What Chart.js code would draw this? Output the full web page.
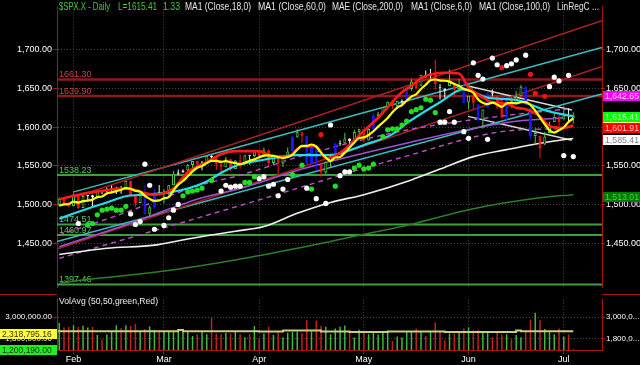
<!DOCTYPE html>
<html><head><meta charset="utf-8">
<script src="https://cdn.jsdelivr.net/npm/chart.js@4.4.1/dist/chart.umd.min.js"></script>
<style>
html,body{margin:0;padding:0;background:#000;}
#wrap{position:relative;width:640px;height:365px;background:#000;overflow:hidden;}
#main{position:absolute;left:0;top:0;}
#vol{position:absolute;left:0;top:294px;}
</style></head><body>
<div id="wrap"><canvas id="main" width="640" height="294"></canvas><canvas id="vol" width="640" height="71"></canvas></div>
<script>
// ================= DATA =================
const months = ['Jan','Feb','Mar','Apr','May','Jun','Jul'];
const tradingDays = [
  [29,30,31],
  [1,4,5,6,7,8,11,12,13,14,15,19,20,21,22,25,26,27,28],
  [1,4,5,6,7,8,11,12,13,14,15,18,19,20,21,22,25,26,27,28],
  [1,2,3,4,5,8,9,10,11,12,15,16,17,18,19,22,23,24,25,26,29,30],
  [1,2,3,6,7,8,9,10,13,14,15,16,17,20,21,22,23,24,28,29,30,31],
  [3,4,5,6,7,10,11,12,13,14,17,18,19,20,21,24,25,26,27,28],
  [1,2,3]
];
const dates = tradingDays.flatMap((days, m) => days.map(d => months[m] + ' ' + d));

const open = [1500.18,1507.84,1501.96,1498.11,1513.17,1495.71,1511.29,1512.12,1509.39,1517.93,
1517.01,1519.43,1520.33,1521.38,1519.79,1530.94,1511.95,1502.42,1515.60,1487.85,
1496.94,1515.99,1514.68,1518.20,1525.20,1539.79,1541.46,1544.26,1551.15,1556.22,
1552.48,1554.52,1563.21,1560.70,1552.10,1548.34,1558.71,1545.90,1556.89,1551.69,
1563.75,1562.86,1569.18,1562.17,1570.25,1553.69,1559.98,1553.26,1563.11,1568.61,
1587.73,1593.30,1588.84,1552.36,1574.57,1552.03,1541.61,1555.25,1562.50,1578.78,
1578.93,1585.16,1582.34,1593.58,1597.55,1582.77,1597.60,1614.40,1617.55,1625.95,
1632.69,1626.69,1632.10,1633.75,1649.13,1658.07,1652.45,1665.71,1666.20,1669.39,
1651.62,1646.67,1652.63,1656.57,1649.14,1652.13,1631.71,1640.73,1629.05,1609.29,
1625.27,1644.67,1638.64,1629.94,1612.15,1635.52,1630.64,1639.77,1651.83,1624.62,
1588.62,1588.77,1577.52,1592.27,1606.44,1611.12,1609.78,1614.29,1611.48];
const high = [1509.35,1509.94,1504.19,1514.41,1513.17,1514.96,1512.53,1512.90,1518.31,1518.31,
1522.29,1524.69,1523.14,1524.24,1530.94,1530.94,1511.95,1515.64,1525.84,1498.99,
1520.08,1525.34,1519.99,1525.27,1543.47,1545.25,1545.78,1552.48,1556.27,1556.77,
1556.39,1563.32,1563.62,1560.70,1557.25,1561.56,1558.71,1557.74,1564.91,1563.95,
1564.07,1570.28,1570.57,1573.66,1571.47,1562.60,1559.98,1563.07,1573.89,1589.07,
1597.35,1593.30,1588.84,1575.35,1574.57,1554.38,1555.89,1565.55,1579.58,1583.00,
1592.64,1585.78,1596.65,1597.57,1597.55,1598.60,1618.46,1619.77,1626.03,1632.78,
1635.01,1633.70,1636.00,1651.10,1661.49,1660.51,1667.47,1672.84,1674.93,1687.18,
1655.50,1649.78,1674.21,1656.57,1661.91,1658.99,1640.42,1646.53,1629.31,1622.56,
1644.40,1648.69,1640.13,1637.71,1639.25,1640.80,1646.50,1654.19,1652.45,1624.62,
1599.19,1588.77,1593.79,1606.83,1620.07,1615.94,1626.61,1624.26,1618.97];
const low = [1498.09,1500.11,1496.76,1498.11,1495.02,1495.71,1504.71,1498.49,1509.39,1513.61,
1515.61,1515.93,1514.02,1514.14,1519.79,1511.41,1497.29,1502.42,1487.85,1485.01,
1494.88,1514.46,1501.48,1512.29,1525.20,1538.11,1541.46,1539.19,1547.36,1548.24,
1544.37,1554.52,1555.74,1545.13,1538.57,1548.34,1543.55,1545.90,1546.22,1551.69,
1551.90,1561.08,1558.47,1562.17,1549.80,1552.52,1539.50,1548.63,1560.92,1568.61,
1586.17,1579.97,1552.28,1552.36,1543.69,1536.03,1539.40,1548.19,1562.50,1575.80,
1578.93,1577.56,1582.34,1586.50,1581.28,1582.77,1597.60,1614.21,1616.64,1622.70,
1623.09,1623.71,1626.74,1633.75,1646.68,1648.60,1652.45,1663.52,1662.67,1648.86,
1635.53,1636.88,1652.63,1640.05,1648.61,1630.74,1622.72,1623.62,1607.09,1598.23,
1625.27,1639.26,1622.92,1610.92,1608.07,1623.96,1630.34,1639.77,1628.91,1584.32,
1577.70,1560.33,1577.09,1592.27,1606.44,1601.06,1609.78,1606.77,1604.57];
const close = [1507.84,1501.96,1498.11,1513.17,1495.71,1511.29,1512.12,1509.39,1517.93,1517.01,
1519.43,1520.33,1521.38,1519.79,1530.94,1511.95,1502.42,1515.60,1487.85,1496.94,
1515.99,1514.68,1518.20,1525.20,1539.79,1541.46,1544.26,1551.18,1556.22,1552.48,
1554.52,1563.23,1560.70,1552.10,1548.34,1558.71,1545.80,1556.89,1551.69,1563.77,
1562.85,1569.19,1562.17,1570.25,1553.69,1559.98,1553.28,1563.07,1568.61,1587.73,
1593.37,1588.85,1552.36,1574.57,1552.01,1541.61,1555.25,1562.50,1578.78,1578.79,
1585.16,1582.24,1593.61,1597.57,1582.70,1597.59,1614.42,1617.50,1625.96,1632.69,
1626.67,1633.70,1633.77,1650.34,1658.78,1650.47,1667.47,1666.29,1669.16,1655.35,
1650.51,1649.60,1660.06,1648.36,1654.41,1630.74,1640.42,1631.38,1608.90,1622.56,
1643.38,1642.81,1626.13,1612.52,1636.36,1626.73,1639.04,1651.81,1628.93,1588.19,
1592.43,1573.09,1588.03,1603.26,1613.20,1606.28,1614.96,1614.08,1615.41];
const volume = [2675000,2425000,2460000,2560000,2460000,2525000,2425000,2460000,2010000,1760000,
2040000,2210000,2560000,2390000,2560000,2510000,2625000,2175000,2340000,2490000,
2310000,2175000,2240000,2240000,2175000,2210000,2175000,2175000,1960000,2060000,
2175000,2060000,2975000,2090000,2060000,2125000,2090000,2225000,2060000,1890000,
2060000,2510000,1810000,2090000,2460000,2010000,2175000,1890000,2140000,2175000,
2210000,2125000,2840000,2210000,2810000,2510000,2475000,2060000,2375000,2475000,
2540000,2125000,1875000,2310000,2175000,2060000,2210000,2040000,2210000,2210000,
1675000,1925000,1875000,2175000,2210000,2375000,2210000,1960000,2175000,2710000,
2210000,1725000,2090000,2090000,2175000,2375000,2425000,2260000,2310000,2210000,
2210000,1875000,2125000,2040000,2060000,1760000,2010000,1890000,2210000,2875000,
3250000,2840000,2340000,2210000,2060000,2375000,1925000,2040000,1200190];

// MA1 (Close,6,0) - yellow
const ma6 = [1498.9,1500.4,1501.0,1504.0,1502.8,1504.7,1505.4,1506.6,1509.9,1510.6,
1514.5,1516.0,1517.6,1519.3,1521.5,1520.6,1517.8,1517.0,1511.4,1507.6,
1505.1,1505.6,1508.2,1509.8,1518.5,1525.9,1530.6,1536.7,1543.0,1547.6,
1550.0,1553.6,1556.4,1556.5,1555.2,1556.3,1554.8,1553.8,1552.3,1554.2,
1556.6,1558.4,1561.1,1563.3,1563.7,1563.0,1561.4,1560.4,1561.5,1564.4,
1571.0,1575.8,1575.7,1577.6,1574.8,1567.1,1560.8,1556.4,1560.8,1561.5,
1567.0,1573.8,1580.2,1586.0,1586.7,1589.8,1594.7,1600.6,1606.0,1611.8,
1619.1,1625.2,1628.4,1633.9,1639.3,1642.3,1649.1,1654.5,1660.4,1661.3,
1659.9,1659.7,1658.5,1655.5,1653.0,1648.9,1647.3,1644.2,1635.7,1631.4,
1629.6,1631.6,1629.2,1626.1,1630.6,1631.3,1630.6,1632.1,1632.6,1628.5,
1621.2,1612.2,1603.7,1595.7,1593.0,1596.0,1599.8,1606.6,1611.2];
// MA1 (Close,18,0) - red
const ma18Days = [0,4,8,13,16,18,20,22,24,27,31,34,37,42,45,48,51,54,56,59,64,67,72,74,76,81,84,86,88,91,94,96,98,101,103,106,108];
const ma18Vals = [1507,1513,1517,1521,1519,1515,1513,1515,1521,1542,1555,1565,1569,1569,1562,1562,1575,1575,1560,1567,1595,1612,1645,1653,1663,1670,1669,1651,1642,1632,1630,1625,1623,1614,1601,1599,1601.91];
// MA1 (Close,60,0) - cyan
const ma60Days = [0,5,10,14,18,22,27,31,34,37,43,50,57,64,70,73,80,85,90,96,99,103,108];
const ma60Vals = [1482,1493,1503,1511,1513,1515,1521,1530,1541,1550,1558,1564,1564,1577,1591,1605,1632,1649,1638,1635,1629,1620,1614];
// MA1 (Close,100,0) - white
const ma100Days = [0,10,20,27,37,43,50,57,64,74,80,87,94,99,104,108];
const ma100Vals = [1436,1444,1448,1456,1466,1472,1489,1503,1513,1532,1546,1562,1571,1577,1582,1585.41];
// long average - dark green
const ma200Days = [0,6,20,37,50,64,74,87,101,108];
const ma200Vals = [1399,1404,1413,1429,1444,1462,1475,1495,1509,1513.01];
// MAE (Close,200,0) envelope - magenta
const maeMidDays = [0,13,30,38,51,72,94,106];
const maeMidVals = [1446,1472,1509,1521,1546,1578,1606,1612];
const maeUpDays = [0,13,30,38,51,72,94,108];
const maeUpVals = [1461,1488,1526,1538,1563,1595,1615,1624];
const maeLowDays = [0,38,72,94,106];
const maeLowVals = [1431,1499,1561,1595,1598];
const maeTag = 1642.65;
// LinRegC channels
const regRedUpper = [[2.9,1509],[114,1737]];
const regRedLower = [[-0.47,1443],[114,1678]];
const regCyanUpper = [[2.9,1516.3],[114,1702.5]];
const regCyanLower = [[-0.47,1452.8],[114,1642.65]];
const regWhiteUpper = [[85.9,1652.8],[107.7,1622]];
const regWhiteLower = [[85.9,1613.8],[107.7,1583]];
// Horizontal levels
const resistance = [1661.30, 1639.90];
const support = [1538.23, 1474.51, 1460.97, 1397.46];
// Dots
const greenDotDays = [6,7,8,9,10,11,12,13,14,26,27,28,29,30,32,39,40,41,49,51,53,58,62,63,64,65,66,68,69,70,71,72,73,74,75,76,77,78,79];
const greenDotVals = [1474.6,1475.9,1487,1493.1,1494.3,1495.6,1493.1,1493.1,1498,1511.6,1516.5,1517.7,1519,1521.4,1531.3,1528.8,1528.8,1536.2,1538.7,1551,1520.2,1523.9,1547.3,1551,1546.1,1547.3,1552.2,1587.9,1596.6,1597.8,1597.8,1602.7,1607.6,1620,1622.4,1624.9,1636,1634.7,1618.7];
const whiteDotDays = [4,15,16,17,18,19,20,22,23,24,25,34,35,36,37,38,42,43,44,45,46,47,48,52,54,56,57,59,60,61,80,81,82,83,85,86,87,88,89,90,91,92,94,95,96,98,103,104,105,106,107,108];
const whiteDotVals = [1475.9,1488.2,1474.6,1478.3,1552.2,1525.1,1468.5,1473.4,1483.3,1493.1,1500.5,1517.7,1525.1,1522.7,1523.9,1523.9,1533.7,1536.2,1523.9,1526.4,1511.6,1520.2,1532.5,1521.4,1507.9,1501.7,1602.7,1537.4,1542.4,1542.4,1606.4,1606.4,1620,1606.4,1594.1,1585.5,1682.8,1666.7,1661.8,1584.2,1688.9,1680.3,1679.1,1681.5,1686.5,1692.6,1652,1664.3,1659.4,1563.3,1666.7,1562.1];
const redDotDays = [55,93,99,100,102];
const redDotVals = [1590.4,1676.6,1668,1643.3,1639.7];
// Volume average (50) - stepped
const volAvgDays = [0,25,26,42,47,55,61,69,81,96,97,104,108];
const volAvgVals = [2290000,2225000,2290000,2225000,2210000,2260000,2210000,2175000,2210000,2175000,2260000,2225000,2225000];
const volAvgLast = 2318795.16;
// Axis ticks
const priceTicks = [1450,1500,1550,1600,1650,1700];
const volTicks = [1800000,3000000];

// ================= STYLE / LAYOUT =================
const FONT = "'Liberation Sans', Arial, Helvetica, sans-serif";
const X_MIN = -0.47, X_MAX = 114.03;
const PRICE_MIN = 1393.35, PRICE_MAX = 1755.4;
const VOL_MIN = 1175000, VOL_MAX = 3975000;
const AXIS_RED = '#a81414';
const GRID = '#4a4a4a';

const monthStarts = [], monthNames = [];
dates.forEach((d, i) => { if (i > 0 && d.split(' ')[0] !== dates[i-1].split(' ')[0]) { monthStarts.push(i); monthNames.push(d.split(' ')[0]); } });

const money = v => Number(v).toLocaleString('en-US', {minimumFractionDigits:2, maximumFractionDigits:2});
const pairs = (days, vals) => days.map((d, i) => ({x: d, y: vals[i]}));
const seg = p => p.map(q => ({x: q[0], y: q[1]}));

function candleKind(i) {
  const body = close[i] - open[i];
  if (Math.abs(body) < 3) return 'white';
  if (body <= -20 || body >= 16) return 'blue';
  return body > 0 ? 'green' : 'red';
}
const KIND = {
  green: {fill:'#000000', line:'#4ccc4c'},
  white: {fill:'#f4f4f4', line:'#f4f4f4'},
  red:   {fill:'#ff1414', line:'#ff1414'},
  blue:  {fill:'#1a1aff', line:'#1a1aff'}
};
const kinds = close.map((c, i) => candleKind(i));

function lineDS(data, color, width, order, extra) {
  return Object.assign({type:'line', data, borderColor:color, borderWidth:width, pointRadius:0, pointHoverRadius:0,
    fill:false, order, cubicInterpolationMode:'monotone'}, extra || {});
}
function dotDS(days, vals, color) {
  return {type:'line', data: pairs(days, vals), showLine:false, pointRadius:2.6, pointHoverRadius:0,
    pointBackgroundColor:color, pointBorderWidth:0, borderColor:color, order:5};
}

const mainDatasets = [
  ...resistance.map(v => lineDS([{x:X_MIN,y:v},{x:X_MAX,y:v}], '#8e1a1a', 2.5, 100)),
  ...support.map(v => lineDS([{x:X_MIN,y:v},{x:X_MAX,y:v}], '#3f9f3f', 2, 100)),
  lineDS(seg(regRedUpper), '#a82020', 1.5, 90),
  lineDS(seg(regRedLower), '#a82020', 1.5, 90),
  lineDS(seg(regCyanUpper), '#3cbcbc', 1.5, 90),
  lineDS(seg(regCyanLower), '#3cbcbc', 1.5, 90),
  lineDS(seg(regWhiteUpper), '#d8d8d8', 1.5, 90),
  lineDS(seg(regWhiteLower), '#d8d8d8', 1.5, 90),
  lineDS(pairs(ma200Days, ma200Vals), '#2a7f2a', 1.5, 85),
  lineDS(pairs(ma100Days, ma100Vals), '#f0f0f0', 1.6, 85),
  lineDS(pairs(maeMidDays, maeMidVals), '#a050d8', 1.5, 85),
  lineDS(pairs(maeUpDays, maeUpVals), '#c050c8', 1.4, 85, {borderDash:[5,4]}),
  lineDS(pairs(maeLowDays, maeLowVals), '#c050c8', 1.4, 85, {borderDash:[5,4]}),
  {type:'bar', data: close.map((c, i) => ({x:i, y:[low[i], high[i]]})), grouped:false, maxBarThickness:1,
   backgroundColor: kinds.map(k => KIND[k].line), borderWidth:0, order:70},
  {type:'bar', data: close.map((c, i) => { let a = Math.min(open[i], c), b = Math.max(open[i], c); if (b - a < 0.9) { a -= 0.45; b += 0.45; } return {x:i, y:[a, b]}; }),
   grouped:false, maxBarThickness:3, backgroundColor: kinds.map(k => KIND[k].fill), borderColor: kinds.map(k => KIND[k].line),
   borderWidth:1, borderSkipped:false, order:60},
  lineDS(pairs(ma60Days, ma60Vals), '#22dcec', 2.2, 40),
  lineDS(pairs(ma18Days, ma18Vals), '#ff1a1a', 2.6, 39),
  lineDS(close.map((c, i) => ({x:i, y:ma6[i]})), '#ffff00', 2.2, 38),
  dotDS(greenDotDays, greenDotVals, '#22dd22'),
  dotDS(whiteDotDays, whiteDotVals, '#ffffff'),
  dotDS(redDotDays, redDotVals, '#ee1111')
];

function drawTag(ctx, x, w, yc, bg, fg, text, size) {
  ctx.fillStyle = bg; ctx.fillRect(x, Math.round(yc - 5), w, 10);
  ctx.fillStyle = fg; ctx.font = size + 'px ' + FONT; ctx.textBaseline = 'middle'; ctx.textAlign = 'left';
  ctx.fillText(text, x + 2, Math.round(yc) + 0.5, w - 3);
}

const last = close.length - 1;
const mainOverlay = {
  id: 'mainOverlay',
  beforeDatasetsDraw(chart) {
    const ctx = chart.ctx, ys = chart.scales.y, left = chart.chartArea.left;
    ctx.save(); ctx.font = '9px ' + FONT; ctx.textBaseline = 'alphabetic'; ctx.textAlign = 'left';
    resistance.forEach(v => { ctx.fillStyle = '#cc4444'; ctx.fillText(v.toFixed(2), left + 2, ys.getPixelForValue(v) - 2.5, 33); });
    support.forEach(v => { ctx.fillStyle = '#58c858'; ctx.fillText(v.toFixed(2), left + 2, ys.getPixelForValue(v) - 2.5, 33); });
    ctx.restore();
  },
  afterDraw(chart) {
    const ctx = chart.ctx, ys = chart.scales.y;
    ctx.save();
    const green = '#3ccf3c', white = '#e6e6e6';
    const head = [
      ['$SPX.X - Daily', 59, 51, green],
      ['L=' + close[last].toFixed(2), 118, 39, green],
      [(close[last] - close[last-1]).toFixed(2), 163, 17, green],
      ['MA1 (Close,18,0)', 185, 66, white],
      ['MA1 (Close,60,0)', 258, 68, white],
      ['MAE (Close,200,0)', 332, 71, white],
      ['MA1 (Close,6,0)', 411, 61, white],
      ['MA1 (Close,100,0)', 479, 71, white],
      ['LinRegC ...', 557, 42, white]
    ];
    ctx.font = '10px ' + FONT; ctx.textBaseline = 'alphabetic'; ctx.textAlign = 'left';
    head.forEach(h => { ctx.fillStyle = h[3]; ctx.fillText(h[0], h[1], 10, h[2]); });
    const R = chart.chartArea.right + 1, W = 640 - R;
    const tags = [
      [ma6[last], '#ffff00', '#fffff0'],
      [close[last], '#00ff00', '#c8ffc8'],
      [ma18Vals[ma18Vals.length-1], '#ff0000', '#ffc0c0'],
      [ma100Vals[ma100Vals.length-1], '#ffffff', '#808080'],
      [maeTag, '#ff00ff', '#ffd8ff'],
      [ma200Vals[ma200Vals.length-1], '#007a00', '#50d050']
    ];
    tags.forEach(t => drawTag(ctx, R, W, ys.getPixelForValue(t[0]) + 2, t[1], t[2], money(t[0]), 9));
    ctx.restore();
  }
};

new Chart(document.getElementById('main'), {
  type: 'bar',
  data: { datasets: mainDatasets },
  options: {
    responsive:false, animation:false, devicePixelRatio:1, events:[],
    layout:{padding:0},
    plugins:{legend:{display:false}, tooltip:{enabled:false}},
    scales:{
      x:{type:'linear', min:X_MIN, max:X_MAX, offset:false, position:'bottom',
         afterBuildTicks: s => { s.ticks = monthStarts.map(v => ({value:v})); },
         afterFit: s => { s.height = 0; },
         ticks:{display:false},
         grid:{color:GRID, drawTicks:false, offset:false},
         border:{display:false, dash:[1,2]}},
      y:{type:'linear', position:'left', min:PRICE_MIN, max:PRICE_MAX,
         afterBuildTicks: s => { s.ticks = priceTicks.map(v => ({value:v})); },
         afterFit: s => { s.width = 57; },
         ticks:{color:'#ffffff', font:{family:FONT, size:9}, padding:1, callback: v => money(v)},
         grid:{color:GRID, tickColor:AXIS_RED, tickLength:4},
         border:{display:true, color:AXIS_RED, width:1, dash:[1,2]}},
      y2:{type:'linear', position:'right', min:PRICE_MIN, max:PRICE_MAX,
         afterBuildTicks: s => { s.ticks = priceTicks.map(v => ({value:v})); },
         afterFit: s => { s.width = 38; },
         ticks:{color:'#ffffff', font:{family:FONT, size:9}, padding:1, callback: v => money(v)},
         grid:{drawOnChartArea:false, tickColor:AXIS_RED, tickLength:3},
         border:{display:true, color:AXIS_RED, width:1}}
    }
  },
  plugins:[mainOverlay]
});

// ================= VOLUME PANEL =================
const volOverlay = {
  id:'volOverlay',
  afterDraw(chart) {
    const ctx = chart.ctx, ys = chart.scales.y, a = chart.chartArea;
    ctx.save();
    ctx.strokeStyle = AXIS_RED; ctx.lineWidth = 1;
    ctx.beginPath(); ctx.moveTo(0, 0.5); ctx.lineTo(a.left, 0.5); ctx.moveTo(a.right, 0.5); ctx.lineTo(640, 0.5); ctx.stroke();
    ctx.font = '9.5px ' + FONT; ctx.fillStyle = '#f0f0f0'; ctx.textBaseline = 'alphabetic'; ctx.textAlign = 'left';
    ctx.fillText('VolAvg (50,50,green,Red)', 59, 10, 99);
    drawTag(ctx, 0, 57, ys.getPixelForValue(volAvgLast) + 5, '#ffff33', '#303030', money(volAvgLast), 8.5);
    drawTag(ctx, 0, 57, ys.getPixelForValue(volume[last]), '#22ee22', '#203020', money(volume[last]), 8.5);
    ctx.restore();
  }
};

new Chart(document.getElementById('vol'), {
  type:'bar',
  data:{datasets:[
    {type:'bar', data: volume.map((v, i) => ({x:i, y:v})), grouped:false, maxBarThickness:1.5, borderWidth:0,
     backgroundColor: volume.map((v, i) => (i === 0 || close[i] >= close[i-1]) ? '#3dbb3d' : '#c42020'), order:20},
    lineDS(pairs(volAvgDays, volAvgVals), '#cccc80', 2, 10, {stepped:'after', cubicInterpolationMode:'default'})
  ]},
  options:{
    responsive:false, animation:false, devicePixelRatio:1, events:[],
    layout:{padding:0},
    plugins:{legend:{display:false}, tooltip:{enabled:false}},
    scales:{
      x:{type:'linear', min:X_MIN, max:X_MAX, offset:false, position:'bottom',
         afterBuildTicks: s => { s.ticks = monthStarts.map(v => ({value:v})); },
         afterFit: s => { s.height = 15; },
         ticks:{color:'#ffffff', font:{family:FONT, size:9}, padding:0, maxRotation:0, autoSkip:false,
                callback:(v, i) => monthNames[i]},
         grid:{color:GRID, tickColor:AXIS_RED, tickLength:4, offset:false},
         border:{display:true, color:AXIS_RED, width:1, dash:[1,2]}},
      y:{type:'linear', position:'left', min:VOL_MIN, max:VOL_MAX,
         afterBuildTicks: s => { s.ticks = volTicks.map(v => ({value:v})); },
         afterFit: s => { s.width = 57; },
         ticks:{color:'#ffffff', font:{family:FONT, size:8}, padding:1, callback: v => money(v)},
         grid:{color:GRID, tickColor:AXIS_RED, tickLength:4},
         border:{display:true, color:AXIS_RED, width:1, dash:[1,2]}},
      y2:{type:'linear', position:'right', min:VOL_MIN, max:VOL_MAX,
         afterBuildTicks: s => { s.ticks = volTicks.map(v => ({value:v})); },
         afterFit: s => { s.width = 38; },
         ticks:{color:'#ffffff', font:{family:FONT, size:8}, padding:1, callback: v => money(v).slice(0,7) + '...'},
         grid:{drawOnChartArea:false, tickColor:AXIS_RED, tickLength:3},
         border:{display:true, color:AXIS_RED, width:1}}
    }
  },
  plugins:[volOverlay]
});
</script>
</body></html>
